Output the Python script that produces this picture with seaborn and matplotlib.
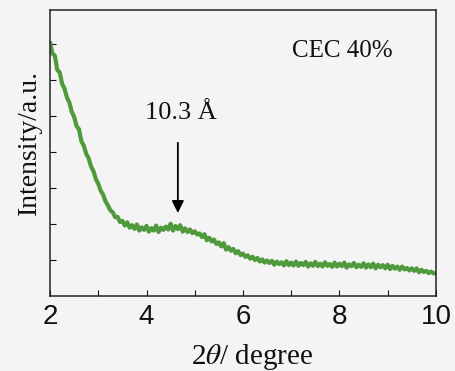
import numpy as np
import pandas as pd
import matplotlib as mpl
mpl.use('Agg')
import matplotlib.pyplot as plt
import seaborn as sns

# XRD pattern (2theta step 0.05 deg)
two_theta = np.round(np.arange(2.0, 10.0001, 0.05), 2)
intensity = [
    7.05, 6.74, 6.68, 6.28, 6.22, 5.90, 5.76, 5.52, 5.38, 5.12, 4.98, 4.72, 4.64, 4.30, 4.18, 3.95, 3.83, 3.60, 3.47, 3.25,
    3.12, 2.93, 2.82, 2.63, 2.52, 2.38, 2.33, 2.19, 2.20, 2.06, 2.09, 1.96, 2.05, 1.90, 1.97, 1.87, 1.99, 1.82, 1.91, 1.84,
    1.95, 1.79, 1.89, 1.82, 1.96, 1.78, 1.90, 1.84, 1.93, 1.85, 2.01, 1.82, 1.95, 1.86, 1.97, 1.79, 1.88, 1.78, 1.85, 1.75,
    1.80, 1.71, 1.74, 1.64, 1.72, 1.55, 1.62, 1.52, 1.57, 1.45, 1.49, 1.38, 1.47, 1.29, 1.36, 1.26, 1.31, 1.19, 1.25, 1.14,
    1.18, 1.09, 1.13, 1.04, 1.09, 1.00, 1.06, 0.96, 1.02, 0.93, 0.99, 0.92, 0.98, 0.87, 0.96, 0.89, 0.94, 0.85, 0.97, 0.86,
    0.93, 0.85, 0.96, 0.84, 0.92, 0.86, 0.95, 0.82, 0.91, 0.84, 0.95, 0.83, 0.90, 0.82, 0.94, 0.84, 0.89, 0.81, 0.93, 0.82,
    0.90, 0.83, 0.93, 0.79, 0.88, 0.83, 0.92, 0.80, 0.87, 0.81, 0.91, 0.79, 0.88, 0.80, 0.90, 0.77, 0.87, 0.80, 0.86, 0.77,
    0.87, 0.75, 0.84, 0.76, 0.82, 0.73, 0.82, 0.74, 0.78, 0.71, 0.77, 0.70, 0.77, 0.66, 0.73, 0.67, 0.70, 0.64, 0.68, 0.63,
    0.64,
]
x_ticks = [2, 4, 6, 8, 10]
peak_label = '10.3 Å'
peak_pos = 4.65
sample_label = 'CEC 40%'

df = pd.DataFrame({'two_theta': two_theta, 'intensity': intensity})

sns.set_style('ticks')
plt.rcParams['font.family'] = ['Liberation Serif', 'DejaVu Serif']
plt.rcParams['mathtext.fontset'] = 'stix'

bg = '#f4f4f4'
fig = plt.figure(figsize=(4.55, 3.71), dpi=100, facecolor=bg)
ax = fig.add_axes([0.110, 0.202, 0.848, 0.771])
ax.set_facecolor(bg)

sns.lineplot(data=df, x='two_theta', y='intensity', ax=ax,
             color='#4f9a3c', linewidth=3.0)

ax.set_xlim(2, 10)
ax.set_ylim(0, 7.95)
ax.set_xticks(x_ticks)
ax.set_xticks(range(3, 10, 2), minor=True)
ax.set_yticks(range(1, 8))
ax.set_yticklabels([])
ax.tick_params(axis='both', which='both', direction='in', length=4, width=0.8,
               colors='#111111')
ax.tick_params(axis='x', which='major', pad=6, labelsize=20)
for lab in ax.get_xticklabels():
    lab.set_family('Liberation Sans')
for sp in ax.spines.values():
    sp.set_linewidth(1.1)
    sp.set_color('#222222')

ax.set_xlabel(r'2$\theta$/ degree', fontsize=21, va='center', color='#111111')
ax.xaxis.set_label_coords(0.523, -0.213)
ax.set_ylabel('Intensity/a.u.', fontsize=20, va='center', color='#111111')
ax.yaxis.set_label_coords(-0.054, 0.538)

ax.annotate('', xy=(peak_pos, 2.31), xytext=(peak_pos, 4.26),
            arrowprops=dict(arrowstyle='-|>', color='black', lw=1.3,
                            mutation_scale=18, shrinkA=0, shrinkB=0))
ax.text(4.72, 5.1, peak_label, fontsize=19, ha='center', va='center', color='#111111')
ax.text(8.07, 6.8, sample_label, fontsize=18, ha='center', va='center', color='#111111')

fig.savefig('out.png', dpi=100, facecolor=bg)
